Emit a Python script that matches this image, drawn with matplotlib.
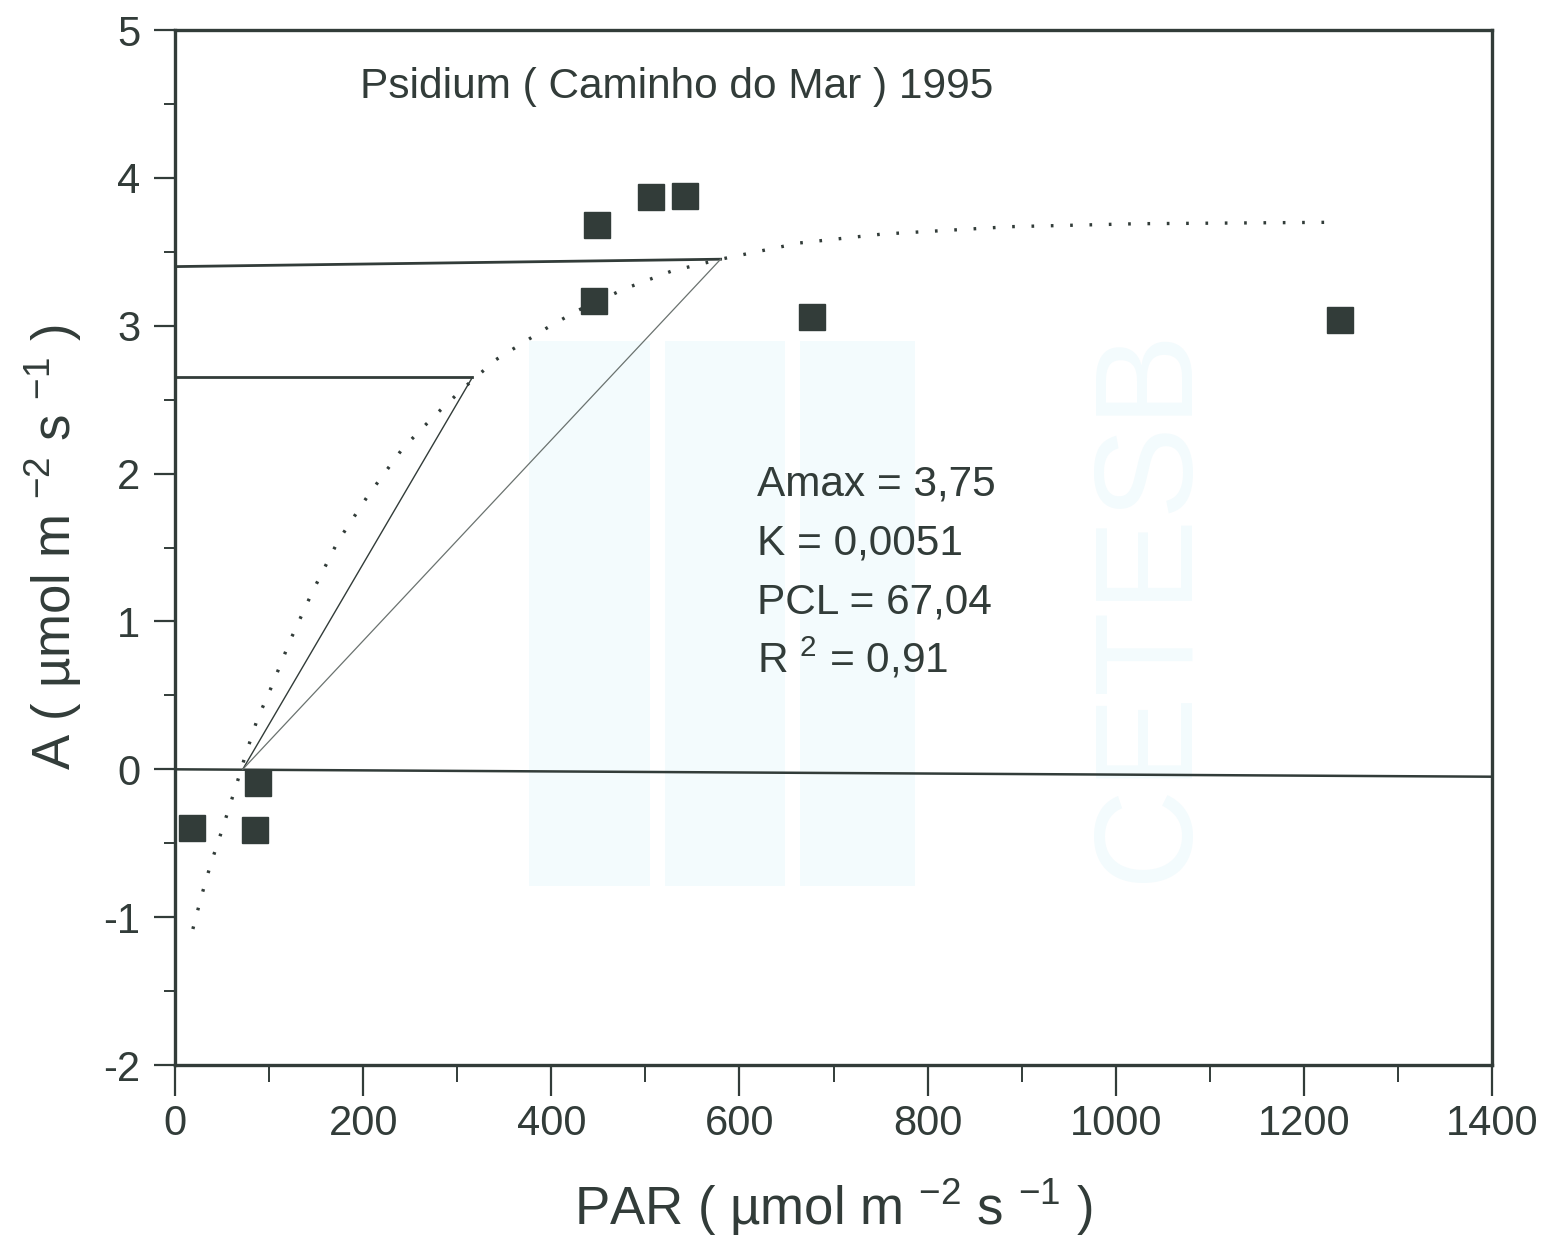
import matplotlib
matplotlib.use("Agg")
import matplotlib.pyplot as plt
from matplotlib.patches import Rectangle

plt.rcParams["font.family"] = ["Liberation Sans", "DejaVu Sans"]
plt.rcParams["mathtext.fontset"] = "custom"
plt.rcParams["mathtext.rm"] = "Liberation Sans"
plt.rcParams["mathtext.default"] = "regular"
plt.rcParams["axes.unicode_minus"] = False

INK = "#323c39"

# measured points (PAR, A)
par = [18, 85, 88, 445, 449, 506, 542, 677, 1238]
assim = [-0.40, -0.41, -0.09, 3.17, 3.68, 3.87, 3.88, 3.06, 3.04]

# fitted curve
fit_x = [19, 28, 38, 49, 60, 66, 76, 82, 87, 102, 123, 146, 173, 205, 242,
         274, 307, 341, 394, 427, 478, 528, 580, 664, 752, 888, 1023, 1234]
fit_y = [-1.08, -0.86, -0.64, -0.43, -0.21, -0.09, 0.12, 0.23, 0.33, 0.55,
         0.88, 1.20, 1.54, 1.85, 2.17, 2.38, 2.58, 2.77, 2.98, 3.10, 3.25,
         3.37, 3.45, 3.56, 3.62, 3.67, 3.69, 3.70]

# construction lines
tan1_x = [72, 316]
tan1_y = [0.0, 2.65]
tan2_x = [72, 580]
tan2_y = [0.0, 3.45]
hor1_x = [0, 316]
hor1_y = [2.65, 2.65]
hor2_x = [0, 580]
hor2_y = [3.40, 3.45]
zero_x = [0, 1400]
zero_y = [0.0, -0.05]

fig = plt.figure(figsize=(15.46, 12.41), dpi=100)
ax = fig.add_axes([0.1132, 0.1418, 0.8519, 0.834])

# faint CETESB watermark from the scan
wm = "#f3fbfd"
for x0, w in [(0.2688, 0.092), (0.3721, 0.091), (0.4746, 0.0873)]:
    ax.add_patch(Rectangle((x0, 0.173), w, 0.527, transform=ax.transAxes,
                           color=wm, zorder=0, lw=0))
ax.text(0.7403, 0.445, "CETESB", transform=ax.transAxes, rotation=90,
        fontsize=100, color=wm, ha="center", va="center", zorder=0)

ax.plot(zero_x, zero_y, color=INK, lw=1.8)
ax.plot(hor1_x, hor1_y, color=INK, lw=2)
ax.plot(hor2_x, hor2_y, color=INK, lw=2)
ax.plot(tan1_x, tan1_y, color=INK, lw=1)
ax.plot(tan2_x, tan2_y, color="#6a726f", lw=0.9)
ax.plot(fit_x, fit_y, color=INK, lw=2.4, linestyle=(0, (0.8, 5)))
ax.plot(par, assim, "s", color=INK, ms=19, zorder=5)

ax.set_xlim(0, 1400)
ax.set_ylim(-2, 5)
ax.set_xticks(range(0, 1401, 200))
ax.set_xticks(range(100, 1400, 200), minor=True)
ax.set_yticks(range(-2, 6))
ax.set_yticks([-1.5, -0.5, 0.5, 1.5, 2.5, 3.5, 4.5], minor=True)
ax.tick_params(which="major", direction="out", length=15, width=1.6,
               labelsize=30, pad=10, colors=INK)
ax.tick_params(which="minor", direction="out", length=8, width=1.4,
               colors=INK)
ax.tick_params(axis="x", which="major", length=22, pad=6)
ax.tick_params(axis="x", which="minor", length=12)
for sp in ax.spines.values():
    sp.set_linewidth(2.4)
    sp.set_color(INK)

ax.set_xlabel("PAR ( µmol m $^{-2}$ s $^{-1}$ )", fontsize=38, color=INK,
              labelpad=24)
ax.set_ylabel("A ( µmol m $^{-2}$ s $^{-1}$ )", fontsize=38, color=INK,
              labelpad=14)

ax.text(0.1405, 0.934, "Psidium ( Caminho do Mar ) 1995",
        transform=ax.transAxes, fontsize=30.5, color=INK)
stats = ["Amax = 3,75", "K = 0,0051", "PCL = 67,04", "R $^{2}$ = 0,91"]
for i, s in enumerate(stats):
    ax.text(0.442, 0.5498 - i * 0.0567, s, transform=ax.transAxes,
            fontsize=30.5, color=INK)

fig.savefig("out.png", dpi=100)
